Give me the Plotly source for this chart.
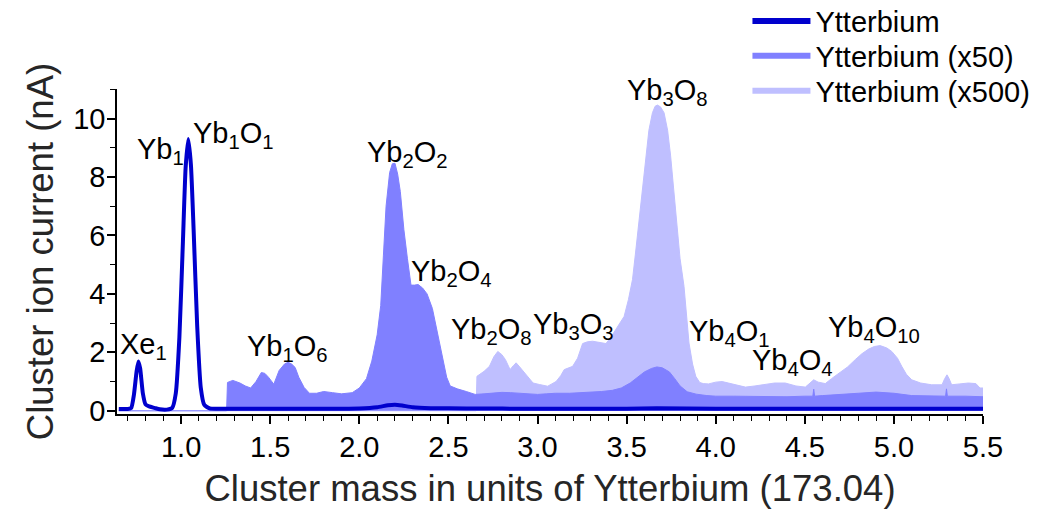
import plotly.graph_objects as go

# Ytterbium cluster ion current, unscaled (nA)
yb_x = [0.65, 0.70, 0.72, 0.735, 0.75, 0.76, 0.77, 0.785, 0.80, 0.82, 0.85, 0.88, 0.92,
        0.95, 0.97, 0.99, 1.01, 1.025, 1.04, 1.055, 1.07, 1.09, 1.11, 1.13, 1.16, 1.20,
        1.30, 1.50, 1.80, 2.00, 2.10, 2.16, 2.20, 2.24, 2.30, 2.40, 2.60, 3.00, 3.50,
        3.67, 4.00, 4.50, 5.00, 5.50]
yb_y = [0.06, 0.06, 0.10, 0.55, 1.35, 1.69, 1.45, 0.60, 0.22, 0.15, 0.10, 0.05, 0.04,
        0.10, 0.60, 2.50, 5.80, 8.30, 9.30, 8.40, 6.20, 2.90, 0.80, 0.20, 0.08, 0.07,
        0.07, 0.07, 0.07, 0.08, 0.12, 0.19, 0.21, 0.18, 0.12, 0.09, 0.08, 0.07, 0.07,
        0.09, 0.07, 0.07, 0.07, 0.07]

# Ytterbium x50
yb50_x = [0.65, 1.255, 1.26, 1.29, 1.33, 1.36, 1.39, 1.42, 1.45, 1.47, 1.49, 1.52, 1.55,
          1.58, 1.60, 1.62, 1.64, 1.66, 1.69, 1.72, 1.76, 1.80, 1.85, 1.90, 1.96, 2.00,
          2.04, 2.07, 2.10, 2.12, 2.135, 2.15, 2.17, 2.185, 2.20, 2.215, 2.23, 2.25, 2.27,
          2.29, 2.31, 2.33, 2.355, 2.38, 2.41, 2.43, 2.45, 2.47, 2.49, 2.51, 2.55, 2.60,
          2.65, 2.70, 2.75, 2.80, 2.85, 2.90, 2.95, 3.00, 3.05, 3.10, 3.18, 3.25, 3.30,
          3.36, 3.42, 3.47, 3.52, 3.56, 3.60, 3.64, 3.67, 3.70, 3.74, 3.77, 3.80, 3.84,
          3.89, 3.95, 4.00, 4.10, 4.20, 4.30, 4.40, 4.50, 4.545, 4.55, 4.555, 4.60, 4.70,
          4.80, 4.90, 5.00, 5.10, 5.20, 5.29, 5.295, 5.30, 5.40, 5.50]
yb50_y = [0.0, 0.0, 0.97, 1.04, 0.95, 0.85, 0.78, 1.00, 1.31, 1.28, 1.15, 0.91, 1.38,
          1.60, 1.66, 1.60, 1.48, 1.15, 0.80, 0.60, 0.60, 0.66, 0.62, 0.58, 0.62, 0.78,
          1.10, 1.70, 2.60, 3.60, 5.30, 7.00, 8.15, 8.45, 8.47, 8.10, 7.50, 6.20, 5.20,
          4.30, 4.30, 4.32, 4.20, 4.00, 3.50, 2.90, 2.30, 1.70, 1.15, 0.85, 0.75, 0.66,
          0.56, 0.58, 0.60, 0.63, 0.62, 0.60, 0.58, 0.56, 0.58, 0.60, 0.60, 0.62, 0.64,
          0.66, 0.70, 0.78, 0.95, 1.15, 1.33, 1.45, 1.50, 1.47, 1.33, 1.10, 0.85, 0.65,
          0.57, 0.52, 0.50, 0.50, 0.49, 0.50, 0.48, 0.50, 0.50, 0.74, 0.50, 0.52, 0.55,
          0.60, 0.64, 0.60, 0.52, 0.50, 0.50, 0.75, 0.50, 0.50, 0.48]

# Ytterbium x500
yb500_x = [0.65, 2.655, 2.66, 2.70, 2.73, 2.755, 2.777, 2.80, 2.82, 2.846, 2.865, 2.88,
           2.90, 2.92, 2.95, 2.975, 3.01, 3.057, 3.08, 3.104, 3.13, 3.15, 3.197, 3.225,
           3.253, 3.28, 3.309, 3.35, 3.384, 3.41, 3.44, 3.465, 3.486, 3.51, 3.533, 3.55,
           3.57, 3.59, 3.608, 3.625, 3.645, 3.66, 3.673, 3.69, 3.71, 3.73, 3.747, 3.765,
           3.785, 3.80, 3.822, 3.835, 3.85, 3.87, 3.888, 3.91, 3.93, 3.96, 4.00, 4.036,
           4.07, 4.111, 4.167, 4.22, 4.28, 4.33, 4.39, 4.45, 4.503, 4.53, 4.55, 4.575,
           4.615, 4.65, 4.69, 4.74, 4.783, 4.82, 4.858, 4.89, 4.923, 4.96, 4.988, 5.02,
           5.044, 5.07, 5.10, 5.15, 5.212, 5.27, 5.285, 5.298, 5.31, 5.324, 5.37, 5.418,
           5.46, 5.483, 5.50]
yb500_y = [0.0, 0.0, 1.18, 1.35, 1.52, 1.85, 2.03, 1.92, 1.75, 1.41, 1.55, 1.64,
           1.50, 1.35, 1.12, 0.95, 0.90, 0.84, 0.92, 1.00, 1.20, 1.41, 1.52, 1.80,
           2.30, 2.36, 2.38, 2.35, 2.30, 2.50, 2.78, 3.00, 3.23, 3.80, 4.49, 5.40,
           6.55, 7.80, 8.83, 9.60, 10.20, 10.42, 10.46, 10.40, 10.20, 9.60, 8.72, 7.50,
           6.20, 5.20, 4.26, 3.30, 2.32, 1.60, 1.18, 0.97, 0.93, 0.92, 0.98, 1.00,
           0.95, 0.89, 0.81, 0.85, 0.90, 0.95, 0.95, 0.85, 0.81, 0.95, 1.06, 0.98,
           0.93, 1.10, 1.29, 1.50, 1.75, 1.95, 2.11, 2.20, 2.23, 2.15, 2.03, 1.80,
           1.52, 1.25, 1.06, 0.95, 0.89, 0.89, 1.10, 1.23, 1.10, 0.89, 0.92, 0.95,
           0.93, 0.78, 0.78]

# Peak labels: (text, x, y)
peak_labels = [
    ("Xe<sub>1</sub>", 0.787, 2.2),
    ("Yb<sub>1</sub>", 0.882, 8.9),
    ("Yb<sub>1</sub>O<sub>1</sub>", 1.291, 9.45),
    ("Yb<sub>2</sub>O<sub>2</sub>", 2.268, 8.8),
    ("Yb<sub>2</sub>O<sub>4</sub>", 2.517, 4.72),
    ("Yb<sub>1</sub>O<sub>6</sub>", 1.599, 2.15),
    ("Yb<sub>2</sub>O<sub>8</sub>", 2.741, 2.72),
    ("Yb<sub>3</sub>O<sub>3</sub>", 3.200, 2.9),
    ("Yb<sub>3</sub>O<sub>8</sub>", 3.727, 10.9),
    ("Yb<sub>4</sub>O<sub>1</sub>", 4.078, 2.66),
    ("Yb<sub>4</sub>O<sub>4</sub>", 4.431, 1.66),
    ("Yb<sub>4</sub>O<sub>10</sub>", 4.891, 2.8),
]

series_names = ["Ytterbium", "Ytterbium (x50)", "Ytterbium (x500)"]
DARK, MID, LIGHT = "#0000CD", "#8080FF", "#BFBFFF"
FAMILY = "Liberation Sans, Arial, sans-serif"

fig = go.Figure()

# filled scaled spectra (x500 behind x50)
fig.add_trace(go.Scatter(x=yb500_x, y=yb500_y, mode="lines", fill="tozeroy",
                         fillcolor=LIGHT, line=dict(color=LIGHT, width=1),
                         showlegend=False, hoverinfo="skip"))
fig.add_trace(go.Scatter(x=yb50_x, y=yb50_y, mode="lines", fill="tozeroy",
                         fillcolor=MID, line=dict(color=MID, width=1),
                         showlegend=False, hoverinfo="skip"))
fig.add_trace(go.Scatter(x=yb_x, y=yb_y, mode="lines",
                         line=dict(color=DARK, width=4, shape="spline", smoothing=0.5),
                         showlegend=False))

# legend entries as plain line samples, one legend box per row
legend_ids = ["legend", "legend2", "legend3"]
legend_rows_y = [1.209, 1.1015, 0.9938]
for name, col, lid in zip(series_names, [DARK, MID, LIGHT], legend_ids):
    fig.add_trace(go.Scatter(x=[None], y=[None], mode="lines", name=name,
                             legend=lid, line=dict(color=col, width=6)))

for txt, x, y in peak_labels:
    fig.add_annotation(x=x, y=y, text=txt, showarrow=False,
                       font=dict(family=FAMILY, size=29, color="black"))

axis_font = dict(family=FAMILY, size=29, color="black")
title_font = dict(family=FAMILY, size=36.5, color="#262626")

legend_style = dict(x=0.728, xanchor="left", yanchor="middle",
                    font=dict(family=FAMILY, size=29, color="black"),
                    bgcolor="rgba(0,0,0,0)", itemwidth=58)

fig.update_layout(
    width=1040, height=517, autosize=False,
    margin=dict(l=117, r=57, t=89, b=103, autoexpand=False),
    plot_bgcolor="white", paper_bgcolor="white",
    font=dict(family=FAMILY, color="black"),
    legend=dict(y=legend_rows_y[0], **legend_style),
    legend2=dict(y=legend_rows_y[1], **legend_style),
    legend3=dict(y=legend_rows_y[2], **legend_style),
    xaxis=dict(range=[0.64, 5.5], tick0=0.5, dtick=0.5, tickformat=".1f",
               ticks="outside", ticklen=8, tickwidth=1.5, tickcolor="black",
               showline=True, linecolor="black", linewidth=1.5,
               showgrid=False, zeroline=False, tickfont=axis_font,
               ticklabelstandoff=-2,
               minor=dict(dtick=0.1, tick0=0.0, ticks="outside", ticklen=5,
                          tickcolor="black", tickwidth=1.2, showgrid=False),
               title=dict(text="Cluster mass in units of Ytterbium (173.04)",
                          font=title_font, standoff=14)),
    yaxis=dict(range=[-0.11, 11.01], tick0=0, dtick=2,
               ticks="outside", ticklen=8, tickwidth=1.5, tickcolor="black",
               showline=True, linecolor="black", linewidth=1.5,
               showgrid=False, zeroline=False, tickfont=axis_font,
               ticklabelstandoff=-4,
               minor=dict(dtick=1, tick0=0, ticks="outside", ticklen=5,
                          tickcolor="black", tickwidth=1.2, showgrid=False),
               title=dict(text="Cluster ion current (nA)", font=title_font, standoff=8)),
)

fig.write_html("out.html")
